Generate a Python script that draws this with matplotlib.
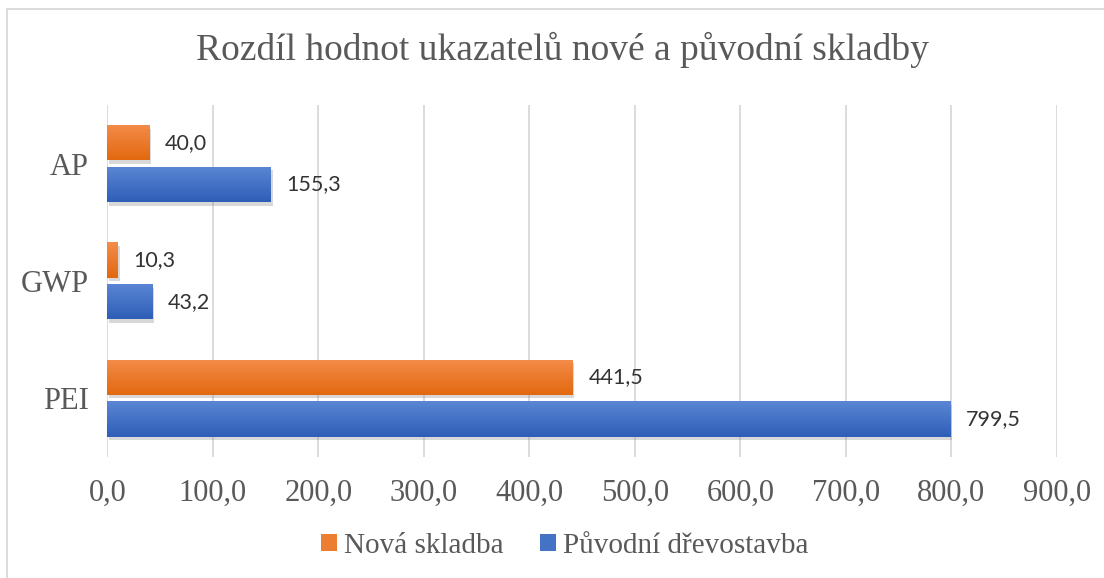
import numpy as np
import matplotlib.pyplot as plt
import matplotlib.patheffects as pe
from matplotlib.lines import Line2D
from matplotlib.patches import Patch

categories = ['PEI', 'GWP', 'AP']
nova = [441.5, 10.3, 40.0]
puvodni = [799.5, 43.2, 155.3]
series_names = ['Nová skladba', 'Původní dřevostavba']
xticks = [0, 100, 200, 300, 400, 500, 600, 700, 800, 900]

W, H = 1104, 578
fig = plt.figure(figsize=(W / 100, H / 100), dpi=100)
ax = fig.add_axes([107.3 / W, 1 - 456.7 / H, (1056.8 - 107.3) / W, (456.7 - 105) / H])

serif = 'Liberation Serif'
gray = '#595959'

# outer chart border (top and left edges only visible)
fig.add_artist(Line2D([7.3 / W, 1.0], [1 - 8.7 / H, 1 - 8.7 / H], color='#D9D9D9', lw=1.3))
fig.add_artist(Line2D([7.3 / W, 7.3 / W], [1 - 8.7 / H, 0.0], color='#D9D9D9', lw=1.3))

y = np.arange(len(categories))
off = 0.178
h = 0.30

shadow = [pe.SimplePatchShadow(offset=(1, -2.5), alpha=0.3, shadow_rgbFace='#808080'), pe.Normal()]
b1 = ax.barh(y + off, nova, height=h, color='#ED7D31', zorder=3, path_effects=shadow)
b2 = ax.barh(y - off, puvodni, height=h, color='#4472C4', zorder=3, path_effects=shadow)


def gradient(bars, top, bottom):
    grad = np.linspace(0, 1, 64).reshape(-1, 1)
    c1 = np.array(plt.matplotlib.colors.to_rgb(top))
    c2 = np.array(plt.matplotlib.colors.to_rgb(bottom))
    img = c1[None, None, :] * (1 - grad[:, :, None]) + c2[None, None, :] * grad[:, :, None]
    for b in bars:
        x0, y0 = b.get_x(), b.get_y()
        im = ax.imshow(img, extent=[x0, x0 + b.get_width(), y0, y0 + b.get_height()],
                       aspect='auto', origin='upper', zorder=4, interpolation='bilinear')
        im.set_clip_path(b)


gradient(b1, '#F48C4A', '#E2680F')
gradient(b2, '#5A86D4', '#2F5EB7')

for bars, vals in [(b1, nova), (b2, puvodni)]:
    for b, v in zip(bars, vals):
        ax.annotate(f'{v:.1f}'.replace('.', ','), (v, b.get_y() + b.get_height() / 2),
                    xytext=(11, 0), textcoords='offset points', va='center', ha='left',
                    fontsize=15.5, family='Lato', color='#333333', zorder=5)

ax.set_xlim(0, 900)
ax.set_ylim(-0.5, 2.5)
ax.set_xticks(xticks)
ax.set_xticklabels([f'{t:.1f}'.replace('.', ',') for t in xticks], family=serif, fontsize=22, color=gray)
ax.set_yticks(y)
ax.set_yticklabels(categories, family=serif, fontsize=22, color=gray)
ax.tick_params(axis='y', length=0, pad=13)
ax.tick_params(axis='x', length=0, pad=16)
ax.grid(axis='x', color='#D9D9D9', lw=1.3, zorder=0)
ax.set_axisbelow(True)
for s in ax.spines.values():
    s.set_visible(False)

fig.text(562 / W, 1 - 50 / H, 'Rozdíl hodnot ukazatelů nové a původní skladby', ha='center', va='center',
         family=serif, fontsize=27, color=gray)

handles = [Patch(facecolor='#ED7D31'), Patch(facecolor='#4472C4')]
fig.legend(handles, series_names, loc='center', bbox_to_anchor=(0.5115, 1 - 546 / H), ncol=2, frameon=False,
           prop={'family': serif, 'size': 21}, labelcolor=gray, handlelength=0.55, handleheight=0.55,
           handletextpad=0.25, columnspacing=1.25)

fig.savefig('out.png', dpi=100)
